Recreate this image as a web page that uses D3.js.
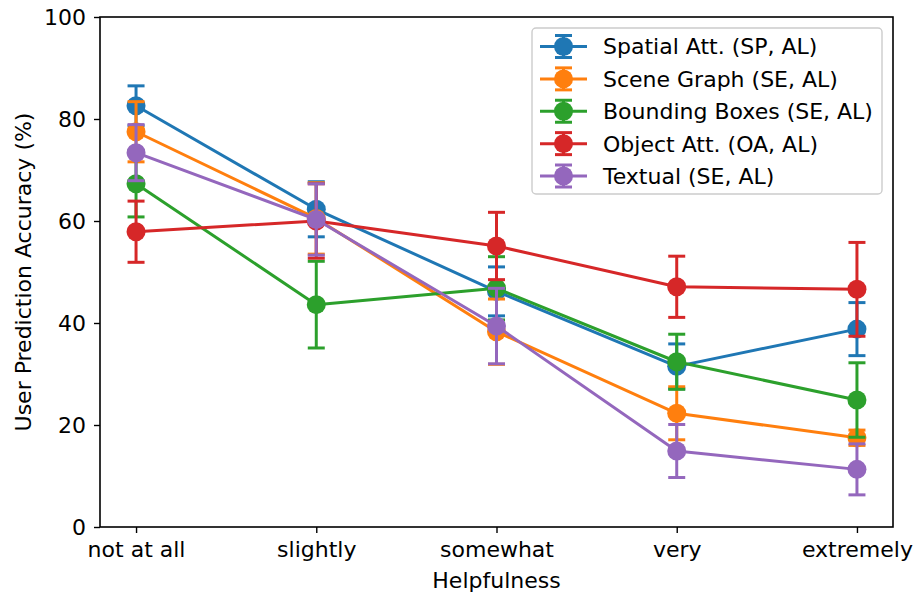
<!DOCTYPE html>
<html>
<head>
<meta charset="utf-8">
<script src="https://cdn.jsdelivr.net/npm/d3@7/dist/d3.min.js"></script>
<style>
  html, body { margin: 0; padding: 0; background: #fff; }
  svg { display: block; font-family: "DejaVu Sans", sans-serif; }
</style>
</head>
<body>
<svg id="chart" width="916" height="595"></svg>
<script>
// Helpfulness levels along the x axis
const categories = ["not at all", "slightly", "somewhat", "very", "extremely"];

// Series names (legend order) and colours
const seriesNames = [
  "Spatial Att. (SP, AL)",
  "Scene Graph (SE, AL)",
  "Bounding Boxes (SE, AL)",
  "Object Att. (OA, AL)",
  "Textual (SE, AL)"
];
const seriesColors = ["#1f77b4", "#ff7f0e", "#2ca02c", "#d62728", "#9467bd"];

// Mean user prediction accuracy (%) per helpfulness level
const spatialMean  = [82.6, 62.3, 46.2, 31.5, 38.8];
const sceneMean    = [77.5, 60.5, 38.3, 22.3, 17.5];
const boxesMean    = [67.3, 43.6, 46.8, 32.4, 24.9];
const objectMean   = [57.9, 60.0, 55.1, 47.1, 46.6];
const textualMean  = [73.4, 60.3, 39.4, 14.9, 11.3];

// Error bar half-widths (%)
const spatialErr  = [3.9, 5.4, 4.8, 4.4, 5.2];
const sceneErr    = [5.9, 7.0, 6.4, 5.2, 1.5];
const boxesErr    = [6.5, 8.5, 6.2, 5.4, 7.3];
const objectErr   = [6.0, 7.3, 6.6, 6.0, 9.2];
const textualErr  = [5.5, 7.0, 7.4, 5.2, 5.0];

const yTicks = [0, 20, 40, 60, 80, 100];
const xTitle = "Helpfulness";
const yTitle = "User Prediction Accuracy (%)";

const means = [spatialMean, sceneMean, boxesMean, objectMean, textualMean];
const errs  = [spatialErr, sceneErr, boxesErr, objectErr, textualErr];

const series = seriesNames.map((name, i) => ({
  name,
  color: seriesColors[i],
  points: categories.map((c, j) => ({ i: j, v: means[i][j], e: errs[i][j] }))
}));

const svg = d3.select("#chart");
const plotLeft = 100, plotRight = 893, plotTop = 17, plotBottom = 527;
const fontSize = 22;

const x = d3.scaleLinear().domain([-0.2, categories.length - 1 + 0.2]).range([plotLeft, plotRight]);
const y = d3.scaleLinear().domain([0, 100]).range([plotBottom, plotTop]);

// Axes
const xAxis = d3.axisBottom(x)
  .tickValues(d3.range(categories.length))
  .tickFormat(i => categories[i])
  .tickSize(6).tickPadding(8);
const yAxis = d3.axisLeft(y)
  .tickValues(yTicks)
  .tickSize(6).tickPadding(8);

const gx = svg.append("g").attr("transform", `translate(0,${plotBottom})`).call(xAxis);
const gy = svg.append("g").attr("transform", `translate(${plotLeft},0)`).call(yAxis);
[gx, gy].forEach(g => {
  g.select(".domain").remove();
  g.selectAll(".tick line").attr("stroke", "#000").attr("stroke-width", 1.4);
  g.selectAll(".tick text")
    .attr("fill", "#000")
    .style("font-size", fontSize + "px")
    .style("font-family", "DejaVu Sans, sans-serif");
});

// Plot frame
svg.append("rect")
  .attr("x", plotLeft).attr("y", plotTop)
  .attr("width", plotRight - plotLeft).attr("height", plotBottom - plotTop)
  .attr("fill", "none").attr("stroke", "#000").attr("stroke-width", 1.6);

// Axis titles
svg.append("text")
  .attr("x", (plotLeft + plotRight) / 2).attr("y", 588)
  .attr("text-anchor", "middle")
  .style("font-size", fontSize + "px")
  .text(xTitle);
svg.append("text")
  .attr("transform", `translate(31,${(plotTop + plotBottom) / 2}) rotate(-90)`)
  .attr("text-anchor", "middle")
  .style("font-size", fontSize + "px")
  .text(yTitle);

// Series: error bars, connecting line, markers
const line = d3.line().x(d => x(d.i)).y(d => y(d.v));
const capHalf = 8.5, markerR = 9.5, lw = 3;

series.forEach(s => {
  const g = svg.append("g");
  const eb = g.selectAll("g.eb").data(s.points).join("g");
  eb.append("line")
    .attr("x1", d => x(d.i)).attr("x2", d => x(d.i))
    .attr("y1", d => y(d.v - d.e)).attr("y2", d => y(d.v + d.e))
    .attr("stroke", s.color).attr("stroke-width", lw);
  [-1, 1].forEach(sign => {
    eb.append("line")
      .attr("x1", d => x(d.i) - capHalf).attr("x2", d => x(d.i) + capHalf)
      .attr("y1", d => y(d.v + sign * d.e)).attr("y2", d => y(d.v + sign * d.e))
      .attr("stroke", s.color).attr("stroke-width", lw);
  });
  g.append("path")
    .datum(s.points)
    .attr("d", line)
    .attr("fill", "none")
    .attr("stroke", s.color)
    .attr("stroke-width", lw)
    .attr("stroke-linejoin", "round");
  g.selectAll("circle").data(s.points).join("circle")
    .attr("cx", d => x(d.i)).attr("cy", d => y(d.v))
    .attr("r", markerR)
    .attr("fill", s.color);
});

// Legend
const lg = svg.append("g");
lg.append("rect")
  .attr("x", 532).attr("y", 28)
  .attr("width", 350).attr("height", 166)
  .attr("rx", 4)
  .attr("fill", "#fff").attr("fill-opacity", 0.8)
  .attr("stroke", "#cccccc").attr("stroke-width", 1.4);

const rowY = d3.scaleLinear().domain([0, series.length - 1]).range([46.5, 176]);
series.forEach((s, i) => {
  const cy = rowY(i);
  const hx0 = 540, hx1 = 587, hc = (hx0 + hx1) / 2, hh = 11;
  lg.append("line").attr("x1", hx0).attr("x2", hx1).attr("y1", cy).attr("y2", cy)
    .attr("stroke", s.color).attr("stroke-width", lw);
  lg.append("line").attr("x1", hc).attr("x2", hc).attr("y1", cy - hh).attr("y2", cy + hh)
    .attr("stroke", s.color).attr("stroke-width", lw);
  [-hh, hh].forEach(o => {
    lg.append("line").attr("x1", hc - capHalf).attr("x2", hc + capHalf)
      .attr("y1", cy + o).attr("y2", cy + o)
      .attr("stroke", s.color).attr("stroke-width", lw);
  });
  lg.append("circle").attr("cx", hc).attr("cy", cy).attr("r", markerR).attr("fill", s.color);
  lg.append("text")
    .attr("x", 603).attr("y", cy).attr("dy", "0.36em")
    .style("font-size", fontSize + "px")
    .text(s.name);
});
</script>
</body>
</html>
